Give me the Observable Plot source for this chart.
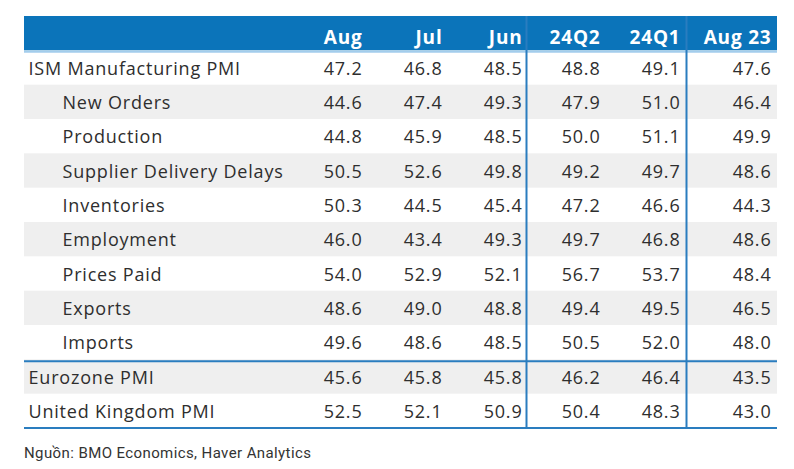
<!DOCTYPE html>
<html><head><meta charset="utf-8">
<script src="https://cdn.jsdelivr.net/npm/d3@7"></script>
<script src="https://cdn.jsdelivr.net/npm/@observablehq/plot@0.6"></script>
<style>
body{margin:0;background:#fff;}
#chart svg{display:block;}
#caption{font-family:Roboto, sans-serif;font-size:15px;letter-spacing:0.4px;color:#333;padding-left:24px;padding-top:3px;line-height:20px;}
</style></head><body>
<div id="chart"></div>
<div id="caption">Nguồn: BMO Economics, Haver Analytics</div>
<script>
// ---- data ----
const columns = ["Aug", "Jul", "Jun", "24Q2", "24Q1", "Aug 23"];
const monthCols = ["Aug", "Jul", "Jun"];
const quarterCols = ["24Q2", "24Q1"];
const yearAgoCols = ["Aug 23"];
const rows = ["ISM Manufacturing PMI", "New Orders", "Production", "Supplier Delivery Delays",
  "Inventories", "Employment", "Prices Paid", "Exports", "Imports", "Eurozone PMI", "United Kingdom PMI"];
const subRows = ["New Orders", "Production", "Supplier Delivery Delays", "Inventories",
  "Employment", "Prices Paid", "Exports", "Imports"];
const aug   = [47.2, 44.6, 44.8, 50.5, 50.3, 46.0, 54.0, 48.6, 49.6, 45.6, 52.5];
const jul   = [46.8, 47.4, 45.9, 52.6, 44.5, 43.4, 52.9, 49.0, 48.6, 45.8, 52.1];
const jun   = [48.5, 49.3, 48.5, 49.8, 45.4, 49.3, 52.1, 48.8, 48.5, 45.8, 50.9];
const q2    = [48.8, 47.9, 50.0, 49.2, 47.2, 49.7, 56.7, 49.4, 50.5, 46.2, 50.4];
const q1    = [49.1, 51.0, 51.1, 49.7, 46.6, 46.8, 53.7, 49.5, 52.0, 46.4, 48.3];
const aug23 = [47.6, 46.4, 49.9, 48.6, 44.3, 48.6, 48.4, 46.5, 48.0, 43.5, 43.0];
const sectionBreak = "Eurozone PMI";

// ---- build table ----
const series = [aug, jul, jun, q2, q1, aug23];
const HDR = "__header__";
const cells = rows.flatMap((r, i) => columns.map((c, j) => ({row: r, col: c, value: series[j][i]})));
const stripeRows = rows.filter((r, i) => i % 2 === 1);

const W = 794, H = 440, MT = 16, MB = 12, ML = 24, MR = 17;
const yDomain = [HDR, ...rows];
const bwY = (H - MT - MB) / yDomain.length;
const xRange = [282, 762];
const bwX = (xRange[1] - xRange[0]) / columns.length;

const blue = "#0b74ba";
const lineBlue = "#2a7dbf";
const textCol = "#2e2e2e";
const FS = 18;

function valueText(cols, dx) {
  return Plot.text(cells.filter(d => cols.includes(d.col)), {
    x: "col", y: "row", text: d => d.value.toFixed(1),
    textAnchor: "end", dx, dy: 1, fontSize: FS, fill: textCol
  });
}
function headerText(cols, dx) {
  return Plot.text(cols, {
    x: d => d, y: () => HDR, text: d => d,
    textAnchor: "end", dx, dy: 4, fontSize: 19, fontWeight: "bold", fill: "white"
  });
}

const dxMonth = bwX / 2, dxQuarter = bwX / 2 - 2, dxYear = bwX / 2 + 9;

const chart = Plot.plot({
  width: W, height: H,
  marginTop: MT, marginBottom: MB, marginLeft: ML, marginRight: MR,
  style: {fontFamily: "'Open Sans', 'Noto Sans', sans-serif", letterSpacing: "0.8px", background: "white"},
  x: {type: "band", domain: columns, range: xRange, padding: 0, axis: null},
  y: {type: "band", domain: yDomain, padding: 0, axis: null, round: false},
  marks: [
    // header background
    Plot.cell([HDR], {y: d => d, fill: blue}),
    // zebra stripes
    Plot.cell(stripeRows, {y: d => d, fill: "#efefef"}),
    // light line under header
    Plot.ruleY([rows[0]], {y: d => d, dy: -bwY / 2 + 1, stroke: "#a3cdec", strokeWidth: 2}),
    // section separator and bottom line
    Plot.ruleY([sectionBreak], {y: d => d, dy: -bwY / 2 + 1.5, stroke: lineBlue, strokeWidth: 2}),
    Plot.ruleY([rows[rows.length - 1]], {y: d => d, dy: bwY / 2 - 0.5, stroke: lineBlue, strokeWidth: 2}),
    // group separators
    Plot.ruleX([quarterCols[0], yearAgoCols[0]], {x: d => d, dx: -bwX / 2 + 4, stroke: lineBlue, strokeWidth: 2}),
    // header labels
    headerText(monthCols, dxMonth),
    headerText(quarterCols, dxQuarter),
    headerText(yearAgoCols, dxYear),
    // row labels
    Plot.text(rows.filter(r => !subRows.includes(r)), {
      y: d => d, text: d => d, frameAnchor: "left", textAnchor: "start",
      dx: 4, dy: 1, fontSize: FS, fill: textCol
    }),
    Plot.text(subRows, {
      y: d => d, text: d => d, frameAnchor: "left", textAnchor: "start",
      dx: 38, dy: 1, fontSize: FS, fill: textCol
    }),
    // values
    valueText(monthCols, dxMonth),
    valueText(quarterCols, dxQuarter),
    valueText(yearAgoCols, dxYear)
  ]
});
document.getElementById("chart").appendChild(chart);
</script>
</body></html>
